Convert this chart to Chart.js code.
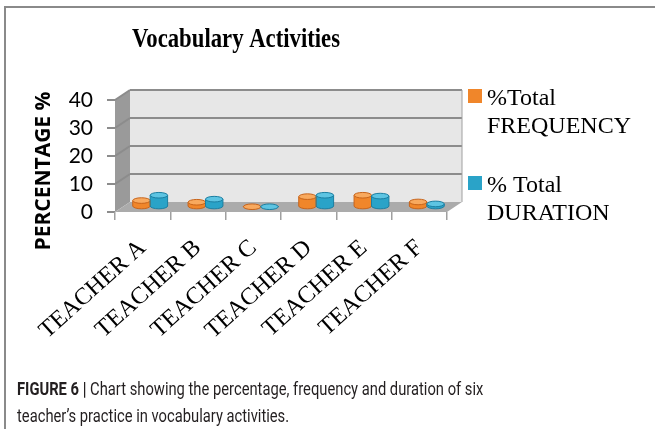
<!DOCTYPE html>
<html>
<head>
<meta charset="utf-8">
<script src="https://cdn.jsdelivr.net/npm/chart.js@4.4.0/dist/chart.umd.min.js"></script>
<style>
body { margin: 0; background: #fff; }
#wrap { position: relative; width: 655px; height: 429px; overflow: hidden; }
#frame { position: absolute; left: 4px; top: 6px; width: 700px; height: 500px;
  border-left: 2px solid #8a8a8a; border-top: 2px solid #8a8a8a; }
canvas { position: absolute; left: 0; top: 0; }
.cap { position: absolute; left: 17px; font-family: Roboto, "Liberation Sans", sans-serif;
  font-size: 18.5px; color: #231f20; white-space: nowrap;
  transform: scaleX(0.797); transform-origin: 0 0; }
.cap b { font-weight: bold; }
</style>
</head>
<body>
<div id="wrap">
  <div id="frame"></div>
  <canvas id="myChart" width="655" height="429"></canvas>
  <div class="cap" id="cap1" style="top:378px"><b>FIGURE 6 |</b> Chart showing the percentage, frequency and duration of six</div>
  <div class="cap" id="cap2" style="top:405px">teacher’s practice in vocabulary activities.</div>
</div>
<script>
// DATA
const categories = ['TEACHER A', 'TEACHER B', 'TEACHER C', 'TEACHER D', 'TEACHER E', 'TEACHER F'];
const frequency = [2.3, 1.7, 0.1, 3.7, 4.2, 1.8];
const duration = [4.2, 2.8, 0.1, 4.2, 3.9, 1.1];
const seriesNames = ['%Total FREQUENCY', '% Total DURATION'];
const yTicks = [0, 10, 20, 30, 40];
const chartTitle = 'Vocabulary Activities';
const yTitle = 'PERCENTAGE %';

// COLORS FOR THE CYLINDERS (BODY, TOP, EDGE)
const bodyColors = ['#F0862A', '#2AA3C8'];
const topColors = ['#F8A95E', '#5DC4E2'];
const edgeColors = ['#C8641A', '#1B7FA2'];

// 3D DEPTH OF THE BACK WALL
const depth = { x: 15, y: -10 };

// BACK WALL, SIDE WALL AND FLOOR
const wallPlugin = {
  id: 'wall',
  beforeDraw(chart) {
    const { ctx, chartArea: a, scales } = chart;
    const y = scales.y;
    ctx.save();
    // back wall
    ctx.fillStyle = '#E7E7E7';
    ctx.fillRect(a.left + depth.x, a.top + depth.y, a.right - a.left, a.bottom - a.top);
    // side wall
    ctx.fillStyle = '#9A9A9A';
    ctx.beginPath();
    ctx.moveTo(a.left, a.top);
    ctx.lineTo(a.left + depth.x, a.top + depth.y);
    ctx.lineTo(a.left + depth.x, a.bottom + depth.y);
    ctx.lineTo(a.left, a.bottom);
    ctx.closePath();
    ctx.fill();
    // grid lines on the back wall
    ctx.strokeStyle = '#8C8C8C';
    ctx.lineWidth = 2;
    yTicks.forEach(v => {
      if (v === 0) return;
      const py = y.getPixelForValue(v) + depth.y;
      ctx.beginPath();
      ctx.moveTo(a.left + depth.x, py);
      ctx.lineTo(a.right + depth.x, py);
      ctx.stroke();
      ctx.beginPath();
      ctx.moveTo(a.left, py - depth.y);
      ctx.lineTo(a.left + depth.x, py);
      ctx.stroke();
    });
    ctx.lineWidth = 1;
    ctx.strokeStyle = '#A0A0A0';
    ctx.beginPath();
    ctx.moveTo(a.right + depth.x, a.top + depth.y);
    ctx.lineTo(a.right + depth.x, a.bottom + depth.y);
    ctx.stroke();
    // floor
    ctx.fillStyle = '#ABABAB';
    ctx.beginPath();
    ctx.moveTo(a.left, a.bottom);
    ctx.lineTo(a.right, a.bottom);
    ctx.lineTo(a.right + depth.x, a.bottom + depth.y);
    ctx.lineTo(a.left + depth.x, a.bottom + depth.y);
    ctx.closePath();
    ctx.fill();
    ctx.restore();
  },
  // PUSH THE BARS HALF WAY INTO THE DEPTH
  beforeDatasetsDraw(chart) {
    chart.ctx.save();
    chart.ctx.translate(depth.x / 2, depth.y / 2);
  },
  afterDatasetsDraw(chart) {
    const ctx = chart.ctx;
    chart.data.datasets.forEach((ds, i) => {
      chart.getDatasetMeta(i).data.forEach(bar => {
        const { x, y, base, width } = bar.getProps(['x', 'y', 'base', 'width'], true);
        const rx = width / 2, ry = 2.8;
        // bottom curve
        ctx.fillStyle = bodyColors[i];
        ctx.beginPath();
        ctx.ellipse(x, base, rx, ry, 0, 0, Math.PI);
        ctx.fill();
        ctx.strokeStyle = edgeColors[i];
        ctx.lineWidth = 1;
        ctx.stroke();
        // sides
        ctx.beginPath();
        ctx.moveTo(x - rx, y); ctx.lineTo(x - rx, base);
        ctx.moveTo(x + rx, y); ctx.lineTo(x + rx, base);
        ctx.stroke();
        // top
        ctx.fillStyle = topColors[i];
        ctx.beginPath();
        ctx.ellipse(x, y, rx, ry, 0, 0, Math.PI * 2);
        ctx.fill();
        ctx.stroke();
      });
    });
    ctx.restore();
  },
  // TITLE, AXIS TITLE AND LEGEND
  afterDraw(chart) {
    const ctx = chart.ctx;
    ctx.save();
    ctx.fillStyle = '#000';
    ctx.font = 'bold 27px "Liberation Serif", serif';
    ctx.textAlign = 'center';
    ctx.textBaseline = 'alphabetic';
    ctx.fillText(chartTitle, 236, 47, 208);

    ctx.save();
    ctx.translate(50, 171);
    ctx.rotate(-Math.PI / 2);
    ctx.font = 'bold 21px "Open Sans", sans-serif';
    ctx.fillText(yTitle, 0, 0);
    ctx.restore();

    ctx.textAlign = 'left';
    ctx.font = '24px "Liberation Serif", serif';
    const legendTop = [89, 176];
    seriesNames.forEach((name, i) => {
      const cut = name.lastIndexOf(' ');
      const lines = [name.slice(0, cut), name.slice(cut + 1)];
      ctx.fillStyle = bodyColors[i];
      ctx.fillRect(468, legendTop[i], 14, 14);
      ctx.fillStyle = '#000';
      ctx.fillText(lines[0], 487, legendTop[i] + 16);
      ctx.fillText(lines[1], 487, legendTop[i] + 44);
    });
    ctx.restore();
  }
};

const ctx = document.getElementById('myChart').getContext('2d');
const myChart = new Chart(ctx, {
  type: 'bar',
  data: {
    labels: categories,
    datasets: [
      { label: seriesNames[0], data: frequency, backgroundColor: bodyColors[0], borderWidth: 0 },
      { label: seriesNames[1], data: duration, backgroundColor: bodyColors[1], borderWidth: 0 }
    ]
  },
  options: {
    responsive: false,
    animation: false,
    devicePixelRatio: 1,
    categoryPercentage: 0.63,
    barPercentage: 1,
    layout: { padding: { left: 30, top: 100, right: 208, bottom: 87 } },
    plugins: {
      legend: { display: false },
      title: { display: false },
      tooltip: { enabled: false }
    },
    scales: {
      y: {
        min: 0,
        max: 40,
        afterBuildTicks: s => { s.ticks = yTicks.map(v => ({ value: v })); },
        afterFit: s => { s.width = 85; },
        border: { display: false },
        grid: { drawOnChartArea: false, tickLength: 8, color: '#8C8C8C', lineWidth: 2 },
        ticks: { color: '#000', padding: 14, autoSkip: false, font: { family: 'Lato', size: 21 } }
      },
      x: {
        afterFit: s => { s.height = 130; },
        border: { display: false },
        grid: { drawOnChartArea: false, tickLength: 8, color: '#A0A0A0', lineWidth: 1.5 },
        ticks: {
          color: '#000', minRotation: 42, maxRotation: 42, padding: 14, autoSkip: false,
          font: { family: 'Liberation Serif', size: 24 }
        }
      }
    }
  },
  plugins: [wallPlugin]
});
</script>
</body>
</html>
